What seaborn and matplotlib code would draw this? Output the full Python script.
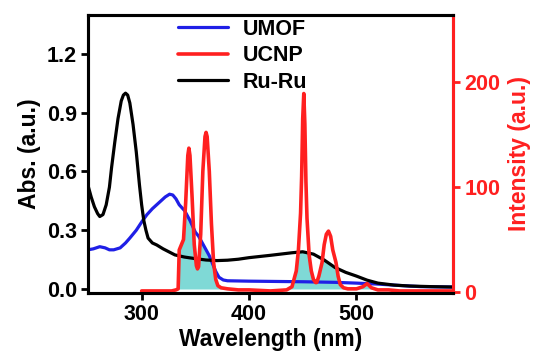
import numpy as np
import matplotlib
matplotlib.use("Agg")
import matplotlib.pyplot as plt
import seaborn as sns

# UMOF absorption (left axis)
umof_wl = [250, 255, 261, 266, 270, 274, 280, 285, 289, 295, 301, 305, 310, 314, 318, 322,
           326, 329, 332, 335, 340, 345, 350, 353, 357, 360, 363, 366, 369, 372, 376, 380,
           390, 400, 450, 480, 500, 520, 540, 560, 590]
umof_abs = [0.20, 0.205, 0.216, 0.21, 0.20, 0.20, 0.21, 0.235, 0.26, 0.30, 0.35, 0.38, 0.41, 0.43,
            0.45, 0.47, 0.484, 0.48, 0.46, 0.43, 0.40, 0.35, 0.29, 0.27, 0.23, 0.20, 0.17, 0.13,
            0.09, 0.06, 0.046, 0.042, 0.041, 0.040, 0.037, 0.034, 0.030, 0.025, 0.018, 0.012, 0.01]

# Ru-Ru absorption (left axis)
ruru_wl = [250, 253, 256, 259, 261, 264, 267, 270, 272, 275, 278, 281, 283, 285, 287, 289, 292,
           295, 298, 300, 302, 304, 306, 310, 314, 320, 331, 340, 350, 360, 370, 380, 390, 400,
           420, 440, 450, 460, 470, 480, 490, 500, 510, 520, 535, 550, 570, 590]
ruru_abs = [0.53, 0.47, 0.42, 0.385, 0.37, 0.38, 0.43, 0.52, 0.62, 0.75, 0.87, 0.96, 0.99, 1.0, 0.99,
            0.95, 0.84, 0.70, 0.53, 0.43, 0.35, 0.30, 0.26, 0.235, 0.225, 0.205, 0.174, 0.163,
            0.155, 0.148, 0.145, 0.147, 0.152, 0.16, 0.172, 0.185, 0.19, 0.178, 0.148, 0.11,
            0.085, 0.066, 0.045, 0.03, 0.02, 0.015, 0.012, 0.01]

# UCNP emission (right axis)
ucnp_wl = [300, 310, 320, 328, 332, 334, 335, 337, 339, 341, 343, 344, 345, 347, 349, 351, 352,
           353, 355, 357, 359, 360, 361, 363, 365, 367, 369, 371, 374, 380, 390, 400, 420, 435,
           440, 444, 446, 448, 449, 450, 451, 452, 453, 454, 456, 458, 460, 462, 463, 465, 468,
           470, 472, 474, 476, 478, 481, 483, 485, 488, 492, 500, 506, 510, 514, 520, 530, 540,
           560, 590]
ucnp_int = [1, 1, 1, 1, 2, 3, 40, 45, 50, 85, 130, 137, 130, 90, 45, 25, 22,
            24, 55, 115, 148, 152, 148, 115, 65, 28, 12, 6, 4, 3, 2, 2, 1, 2,
            5, 20, 40, 75, 110, 165, 189, 160, 105, 70, 35, 20, 12, 9, 9, 15, 28,
            45, 55, 58, 53, 40, 28, 15, 7, 4, 3, 3, 5, 8, 4, 2, 2, 1,
            1, 1]

RED = "#ff2020"

sns.set_style("ticks")
plt.rcParams["font.family"] = ["Liberation Sans", "DejaVu Sans"]
plt.rcParams["font.weight"] = "bold"
plt.rcParams["axes.labelweight"] = "bold"
for k in ["text.color", "axes.labelcolor", "xtick.color", "ytick.color", "axes.edgecolor"]:
    plt.rcParams[k] = "black"

fig = plt.figure(figsize=(5.33, 3.53), dpi=100)
ax = fig.add_axes([0.165, 0.17, 0.685, 0.7875])
ax2 = ax.twinx()

xlim = (250, 590)
ylim1 = (-0.0204, 1.399)
ylim2 = (-0.95, 263.8)

# overlap shading: UCNP emission mapped onto the absorbance axis
ucnp_left = ylim1[0] + (np.array(ucnp_int) - ylim2[0]) / (ylim2[1] - ylim2[0]) * (ylim1[1] - ylim1[0])
cap = np.maximum(np.interp(ucnp_wl, umof_wl, umof_abs), np.interp(ucnp_wl, ruru_wl, ruru_abs))
fill_top = np.clip(np.minimum(ucnp_left, cap), 0, None)
ax.fill_between(ucnp_wl, 0, fill_top, color="#7fd9d6", lw=0, zorder=1)

sns.lineplot(x=umof_wl, y=umof_abs, ax=ax, color="#1f1fe6", lw=2.3, label="UMOF", legend=False, zorder=3)
sns.lineplot(x=ruru_wl, y=ruru_abs, ax=ax, color="black", lw=2.3, label="Ru-Ru", legend=False, zorder=3)
sns.lineplot(x=ucnp_wl, y=ucnp_int, ax=ax2, color=RED, lw=2.6, label="UCNP", legend=False)

ax.set_xlim(*xlim)
ax.set_ylim(*ylim1)
ax2.set_ylim(*ylim2)
ax.set_xticks([300, 400, 500])
ax.set_yticks([0.0, 0.3, 0.6, 0.9, 1.2])
ax.set_yticklabels(["0.0", "0.3", "0.6", "0.9", "1.2"])
ax2.set_yticks([0, 100, 200])

ax.set_xlabel("Wavelength (nm)", fontsize=16.5, fontweight="bold", labelpad=2)
ax.set_ylabel("Abs. (a.u.)", fontsize=16.5, fontweight="bold", labelpad=4)
ax2.set_ylabel("Intensity (a.u.)", fontsize=16.5, fontweight="bold", color=RED, labelpad=6)

for a in (ax, ax2):
    for s in a.spines.values():
        s.set_linewidth(2.2)
        s.set_visible(True)
        s.set_color("black")
ax2.spines["right"].set_color(RED)
ax.tick_params(axis="both", labelsize=15.5, width=2, length=5, pad=3, colors="black")
ax2.tick_params(axis="y", labelsize=15.5, width=2, length=5, colors=RED, pad=3)
for lab in ax.get_xticklabels() + ax.get_yticklabels() + ax2.get_yticklabels():
    lab.set_fontweight("bold")

h1, l1 = ax.get_legend_handles_labels()
h2, l2 = ax2.get_legend_handles_labels()
handles = [h1[0], h2[0], h1[1]]
labels = [l1[0], l2[0], l1[1]]
ax2.legend(handles, labels, loc="upper left", bbox_to_anchor=(178 / 533, 1 - 19 / 353),
           bbox_transform=fig.transFigure, frameon=False, handlelength=2.3,
           handletextpad=0.7, labelspacing=0.25, borderpad=0, borderaxespad=0,
           prop={"weight": "bold", "size": 15.5})

fig.savefig("out.png", dpi=100)
